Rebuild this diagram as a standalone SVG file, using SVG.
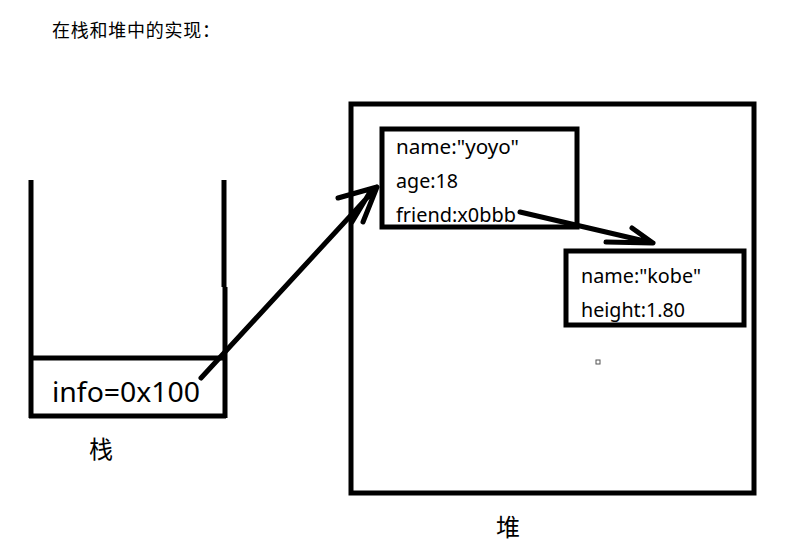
<svg xmlns="http://www.w3.org/2000/svg" width="799" height="555" viewBox="0 0 799 555">
<style>
.ln{stroke:#000;stroke-width:5;fill:none;stroke-linecap:butt}
.ar{stroke:#000;stroke-width:5;fill:none;stroke-linecap:round;stroke-linejoin:round}
.t{font-family:"Noto Sans","Noto Sans CJK SC",sans-serif;fill:#000}
.c{font-family:"Noto Sans CJK SC",sans-serif;fill:#000}
</style>
<rect width="799" height="555" fill="#fff"/>
<text class="c" x="52" y="37" font-size="18" textLength="168" lengthAdjust="spacing">在栈和堆中的实现：</text>
<g id="stack">
<path class="ln" d="M31 180V418M224 180V287M225 287V418M31 358H224M29 416H226"/>
<text class="t" x="52" y="402" font-size="27" textLength="148" lengthAdjust="spacingAndGlyphs">info=0x100</text>
<text class="c" x="89" y="458" font-size="24">栈</text>
</g>
<g id="heap">
<rect class="ln" x="351" y="104" width="403" height="389"/>
<text class="c" x="496" y="536" font-size="24">堆</text>
</g>
<g id="obj1">
<rect class="ln" x="382" y="129" width="195" height="98"/>
<text class="t" x="396" y="154" font-size="19" textLength="123" lengthAdjust="spacingAndGlyphs">name:"yoyo"</text>
<text class="t" x="396" y="188" font-size="19" textLength="62" lengthAdjust="spacingAndGlyphs">age:18</text>
<text class="t" x="396" y="222" font-size="19" textLength="120" lengthAdjust="spacingAndGlyphs">friend:x0bbb</text>
</g>
<g id="obj2">
<rect class="ln" x="566" y="251" width="178" height="74"/>
<text class="t" x="581" y="283" font-size="19" textLength="120" lengthAdjust="spacingAndGlyphs">name:"kobe"</text>
<text class="t" x="581" y="317" font-size="19" textLength="104" lengthAdjust="spacingAndGlyphs">height:1.80</text>
</g>
<rect x="596" y="360" width="4" height="4" fill="none" stroke="#555" stroke-width="1"/>
<g id="connectors">
<path class="ar" d="M201 378L377 187M338 198L377 187L363 222M370 192L352 222"/>
<path class="ar" d="M520 212L653 243M632 228L653 243L606 242"/>
</g>
</svg>
